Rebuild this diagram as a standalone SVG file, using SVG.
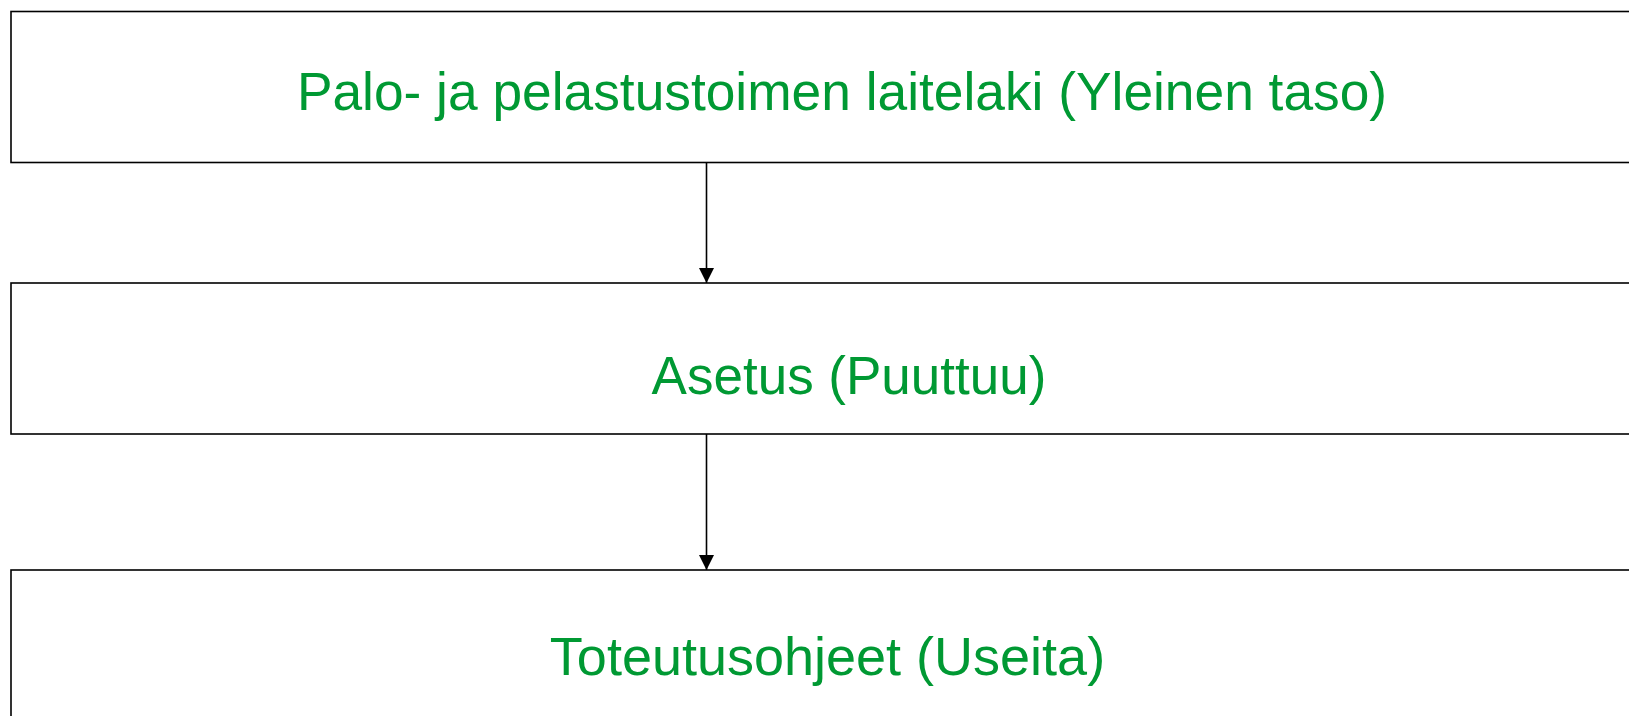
<svg xmlns="http://www.w3.org/2000/svg" width="1629" height="716" viewBox="0 0 1629 716">
<style>
.box{fill:#ffffff;stroke:#000000;stroke-width:1.6}
.lbl{font-family:"Liberation Sans",Arial,sans-serif;font-size:53px;fill:#009933;text-anchor:middle}
.conn{stroke:#000000;stroke-width:1.6;fill:none}
</style>
<defs>
<marker id="arr" markerUnits="userSpaceOnUse" markerWidth="16" markerHeight="16" refX="15" refY="7.5" orient="auto">
<path d="M0,0 L15,7.5 L0,15 Z" fill="#000000"/>
</marker>
</defs>
<rect width="1629" height="716" fill="#ffffff"/>
<g id="node-laki">
<rect class="box" x="11" y="11.5" width="1660" height="151"/>
<text class="lbl" x="842" y="110" style="font-size:53.3px">Palo- ja pelastustoimen laitelaki (Yleinen taso)</text>
</g>
<g id="node-asetus">
<rect class="box" x="11" y="283" width="1660" height="151"/>
<text class="lbl" x="849" y="394">Asetus (Puuttuu)</text>
</g>
<g id="node-ohjeet">
<rect class="box" x="11" y="570" width="1660" height="151"/>
<text class="lbl" x="827.5" y="675" style="font-size:54px">Toteutusohjeet (Useita)</text>
</g>
<g id="connectors">
<line class="conn" x1="706.5" y1="162.5" x2="706.5" y2="283" marker-end="url(#arr)"/>
<line class="conn" x1="706.5" y1="434" x2="706.5" y2="570" marker-end="url(#arr)"/>
</g>
</svg>
